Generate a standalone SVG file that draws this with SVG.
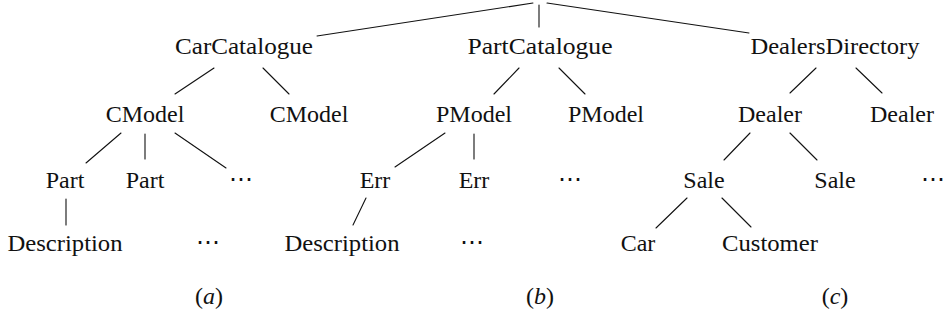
<svg xmlns="http://www.w3.org/2000/svg" width="944" height="320" viewBox="0 0 944 320">
<style>
.edge{stroke:#111;stroke-width:1.1;stroke-linecap:round}
.lbl{font-family:"Liberation Serif",serif;font-size:24px;fill:#111;text-anchor:middle}
.it{font-style:italic}
</style>
<rect width="944" height="320" fill="#fff"/>
<g id="connectors">
<line class="edge" x1="317" y1="36" x2="533" y2="3"/>
<line class="edge" x1="539" y1="5" x2="539" y2="27"/>
<line class="edge" x1="547" y1="3" x2="749" y2="33"/>
<line class="edge" x1="214" y1="68" x2="175" y2="94"/>
<line class="edge" x1="263" y1="68" x2="289" y2="94"/>
<line class="edge" x1="519" y1="68" x2="494" y2="94"/>
<line class="edge" x1="559" y1="68" x2="585" y2="94"/>
<line class="edge" x1="816" y1="68" x2="790" y2="93"/>
<line class="edge" x1="856" y1="68" x2="882" y2="93"/>
<line class="edge" x1="121" y1="133" x2="86" y2="163"/>
<line class="edge" x1="145" y1="134" x2="145" y2="159"/>
<line class="edge" x1="175" y1="133" x2="226" y2="168"/>
<line class="edge" x1="445" y1="133" x2="395" y2="167"/>
<line class="edge" x1="474" y1="134" x2="474" y2="159"/>
<line class="edge" x1="750" y1="133" x2="724" y2="160"/>
<line class="edge" x1="790" y1="133" x2="817" y2="160"/>
<line class="edge" x1="66" y1="199" x2="66" y2="225"/>
<line class="edge" x1="366" y1="198" x2="353" y2="225"/>
<line class="edge" x1="687" y1="198" x2="656" y2="228"/>
<line class="edge" x1="722" y1="198" x2="751" y2="227"/>
</g>
<g id="carCatalogue"><text class="lbl" x="244" y="54" textLength="138" lengthAdjust="spacingAndGlyphs">CarCatalogue</text></g>
<g id="partCatalogue"><text class="lbl" x="540" y="54" textLength="145" lengthAdjust="spacingAndGlyphs">PartCatalogue</text></g>
<g id="dealersDirectory"><text class="lbl" x="835" y="54" textLength="169" lengthAdjust="spacingAndGlyphs">DealersDirectory</text></g>
<g id="cmodel1"><text class="lbl" x="145" y="122">CModel</text></g>
<g id="cmodel2"><text class="lbl" x="309" y="122">CModel</text></g>
<g id="pmodel1"><text class="lbl" x="474" y="122">PModel</text></g>
<g id="pmodel2"><text class="lbl" x="606" y="122">PModel</text></g>
<g id="dealer1"><text class="lbl" x="770" y="122">Dealer</text></g>
<g id="dealer2"><text class="lbl" x="902" y="122">Dealer</text></g>
<g id="part1"><text class="lbl" x="65" y="188">Part</text></g>
<g id="part2"><text class="lbl" x="145" y="188">Part</text></g>
<g id="dotsA1"><text class="lbl" x="241" y="187">⋯</text></g>
<g id="err1"><text class="lbl" x="375" y="188">Err</text></g>
<g id="err2"><text class="lbl" x="474" y="188">Err</text></g>
<g id="dotsB1"><text class="lbl" x="570" y="187">⋯</text></g>
<g id="sale1"><text class="lbl" x="704" y="188">Sale</text></g>
<g id="sale2"><text class="lbl" x="835" y="188">Sale</text></g>
<g id="dotsC1"><text class="lbl" x="933" y="187">⋯</text></g>
<g id="description1"><text class="lbl" x="65" y="251" textLength="115" lengthAdjust="spacingAndGlyphs">Description</text></g>
<g id="dotsA2"><text class="lbl" x="208" y="250">⋯</text></g>
<g id="description2"><text class="lbl" x="342" y="251" textLength="115" lengthAdjust="spacingAndGlyphs">Description</text></g>
<g id="dotsB2"><text class="lbl" x="472" y="250">⋯</text></g>
<g id="car"><text class="lbl" x="638" y="251">Car</text></g>
<g id="customer"><text class="lbl" x="770" y="251" textLength="96" lengthAdjust="spacingAndGlyphs">Customer</text></g>
<g id="captionA"><text class="lbl" x="209" y="304">(<tspan class="it">a</tspan>)</text></g>
<g id="captionB"><text class="lbl" x="540" y="304">(<tspan class="it">b</tspan>)</text></g>
<g id="captionC"><text class="lbl" x="835" y="304">(<tspan class="it">c</tspan>)</text></g>
</svg>
